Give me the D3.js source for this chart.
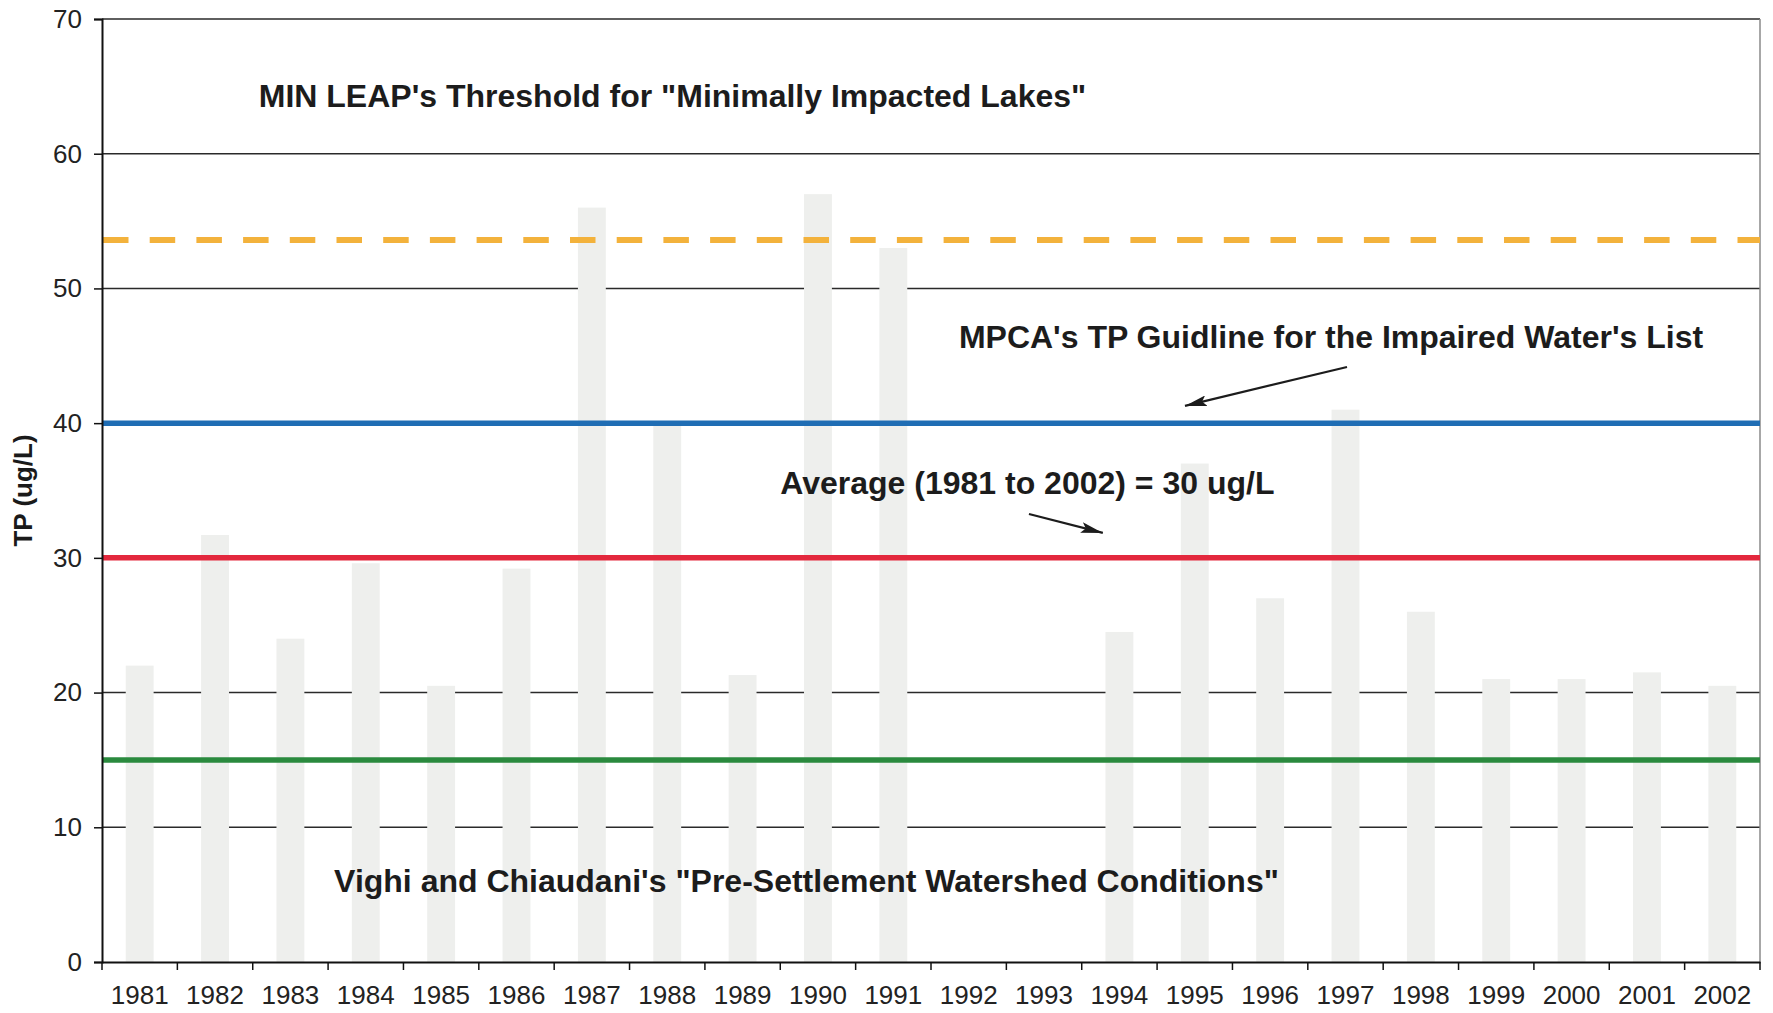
<!DOCTYPE html>
<html>
<head>
<meta charset="utf-8">
<script src="https://cdn.jsdelivr.net/npm/d3@7"></script>
<style>
  html, body { margin: 0; padding: 0; background: #ffffff; }
  svg { display: block; }
  text { font-family: "Liberation Sans", Arial, Helvetica, sans-serif; }
</style>
</head>
<body>
<svg id="chart" width="1773" height="1013"></svg>
<script>
// Annual total phosphorus (ug/L); 1992 and 1993 have no data
const years = [1981, 1982, 1983, 1984, 1985, 1986, 1987, 1988, 1989, 1990, 1991,
               1992, 1993, 1994, 1995, 1996, 1997, 1998, 1999, 2000, 2001, 2002];
const tpValues = [22, 31.7, 24, 29.6, 20.5, 29.2, 56, 40, 21.3, 57, 53,
                  null, null, 24.5, 37, 27, 41, 26, 21, 21, 21.5, 20.5];

// Y axis ticks
const yTicks = [0, 10, 20, 30, 40, 50, 60, 70];

// Reference levels (ug/L)
const refKeys   = ["minLeap", "mpca", "average", "preSettlement"];
const refValues = [53.6, 40, 30, 15];

// Annotation texts and their anchor positions (year, TP)
const noteTexts = [
  "MIN LEAP's Threshold for \"Minimally Impacted Lakes\"",
  "MPCA's TP Guidline for the Impaired Water's List",
  "Average (1981 to 2002) = 30 ug/L",
  "Vighi and Chiaudani's \"Pre-Settlement Watershed Conditions\""
];
const noteYears = [1982.58, 1991.87, 1989.5, 1983.58];
const noteTP    = [63.5, 45.6, 34.75, 5.2];

// Arrows: [fromYear, fromTP, toYear, toTP]
const arrowFrom = [[1997.02, 44.17], [1992.80, 33.26]];
const arrowTo   = [[1994.87, 41.28], [1993.78, 31.85]];

const W = 1773, H = 1013;
const margin = { left: 102, right: 13, top: 19, bottom: 51 };
const x0 = margin.left, x1 = W - margin.right;
const y0 = H - margin.bottom, y1 = margin.top;

const svg = d3.select("#chart");
svg.append("rect").attr("width", W).attr("height", H).attr("fill", "#ffffff");

const x = d3.scaleBand()
  .domain(years)
  .range([x0, x1])
  .paddingInner(0.63)
  .paddingOuter(0.315);
// continuous year scale for annotations (band centres at integer years)
const xc = d3.scaleLinear().domain([years[0] - 0.5, years[years.length - 1] + 0.5]).range([x0, x1]);
const y = d3.scaleLinear().domain([0, 70]).range([y0, y1]);

// Gridlines
svg.append("g")
  .selectAll("line")
  .data(yTicks.filter(t => t > 0))
  .join("line")
  .attr("x1", x0).attr("x2", x1)
  .attr("y1", d => y(d)).attr("y2", d => y(d))
  .attr("stroke", "#2a2a2a")
  .attr("stroke-width", 1.6);

// Right border of plot area
svg.append("line")
  .attr("x1", x1).attr("x2", x1).attr("y1", y1).attr("y2", y0)
  .attr("stroke", "#8a8a8a").attr("stroke-width", 1.5);

// Faint annual bars
const barData = years.map((yr, i) => ({ yr, v: tpValues[i] })).filter(d => d.v != null);
svg.append("g")
  .selectAll("rect")
  .data(barData)
  .join("rect")
  .attr("x", d => x(d.yr))
  .attr("width", x.bandwidth())
  .attr("y", d => y(d.v))
  .attr("height", d => y(0) - y(d.v))
  .attr("fill", "#eeefed");

// Reference lines
const refStyle = {
  minLeap:       { color: "#f3b23c", width: 6,   dash: "25.5,21.2" },
  mpca:          { color: "#1f6db4", width: 5.5, dash: null },
  average:       { color: "#e3283d", width: 5.5, dash: null },
  preSettlement: { color: "#2a8a3e", width: 5.5, dash: null }
};
svg.append("g")
  .selectAll("line")
  .data(refKeys.map((k, i) => ({ k, v: refValues[i] })))
  .join("line")
  .attr("x1", x0 + 1).attr("x2", x1)
  .attr("y1", d => y(d.v)).attr("y2", d => y(d.v))
  .attr("stroke", d => refStyle[d.k].color)
  .attr("stroke-width", d => refStyle[d.k].width)
  .attr("stroke-dasharray", d => refStyle[d.k].dash);

// Y axis
const yAxis = d3.axisLeft(y).tickValues(yTicks).tickSize(8).tickPadding(12);
const gy = svg.append("g").attr("transform", `translate(${x0},0)`).call(yAxis);
gy.select(".domain").attr("stroke", "#111").attr("stroke-width", 2);
gy.selectAll(".tick line").attr("stroke", "#111").attr("stroke-width", 1.5);
gy.selectAll(".tick text")
  .attr("font-size", 26).attr("fill", "#222")
  .attr("font-family", "'Liberation Sans', Arial, sans-serif");

// X axis (labels at band centres, ticks at band boundaries)
const xAxis = d3.axisBottom(x).tickSize(0).tickPadding(24);
const gx = svg.append("g").attr("transform", `translate(0,${y0})`).call(xAxis);
gx.select(".domain").attr("stroke", "#111").attr("stroke-width", 2.2);
gx.selectAll(".tick text")
  .attr("font-size", 26).attr("fill", "#222")
  .attr("font-family", "'Liberation Sans', Arial, sans-serif");
const boundaries = d3.range(years.length + 1).map(i => x0 + i * x.step());
gx.append("g")
  .selectAll("line")
  .data(boundaries)
  .join("line")
  .attr("x1", d => d).attr("x2", d => d)
  .attr("y1", 0).attr("y2", 8)
  .attr("stroke", "#111").attr("stroke-width", 1.5);

// Y axis title
svg.append("text")
  .attr("transform", `translate(32,${(y0 + y1) / 2}) rotate(-90)`)
  .attr("text-anchor", "middle")
  .attr("font-size", 26)
  .attr("font-weight", "bold")
  .attr("fill", "#1a1a1a")
  .text("TP (ug/L)");

// Annotations
svg.append("g")
  .selectAll("text")
  .data(noteTexts.map((t, i) => ({ t, yr: noteYears[i], v: noteTP[i] })))
  .join("text")
  .attr("x", d => xc(d.yr))
  .attr("y", d => y(d.v))
  .attr("font-size", 32)
  .attr("font-weight", "bold")
  .attr("fill", "#1c1c1c")
  .text(d => d.t);

// Arrows
svg.append("defs").append("marker")
  .attr("id", "head")
  .attr("viewBox", "0 0 20 10")
  .attr("refX", 20).attr("refY", 5)
  .attr("markerWidth", 22).attr("markerHeight", 11)
  .attr("markerUnits", "userSpaceOnUse")
  .attr("orient", "auto")
  .append("path")
  .attr("d", "M0,0 L20,5 L0,10 L4,5 Z")
  .attr("fill", "#1c1c1c");

svg.append("g")
  .selectAll("line")
  .data(arrowFrom.map((f, i) => ({ f, t: arrowTo[i] })))
  .join("line")
  .attr("x1", d => xc(d.f[0])).attr("y1", d => y(d.f[1]))
  .attr("x2", d => xc(d.t[0])).attr("y2", d => y(d.t[1]))
  .attr("stroke", "#1c1c1c")
  .attr("stroke-width", 2.2)
  .attr("marker-end", "url(#head)");
</script>
</body>
</html>
